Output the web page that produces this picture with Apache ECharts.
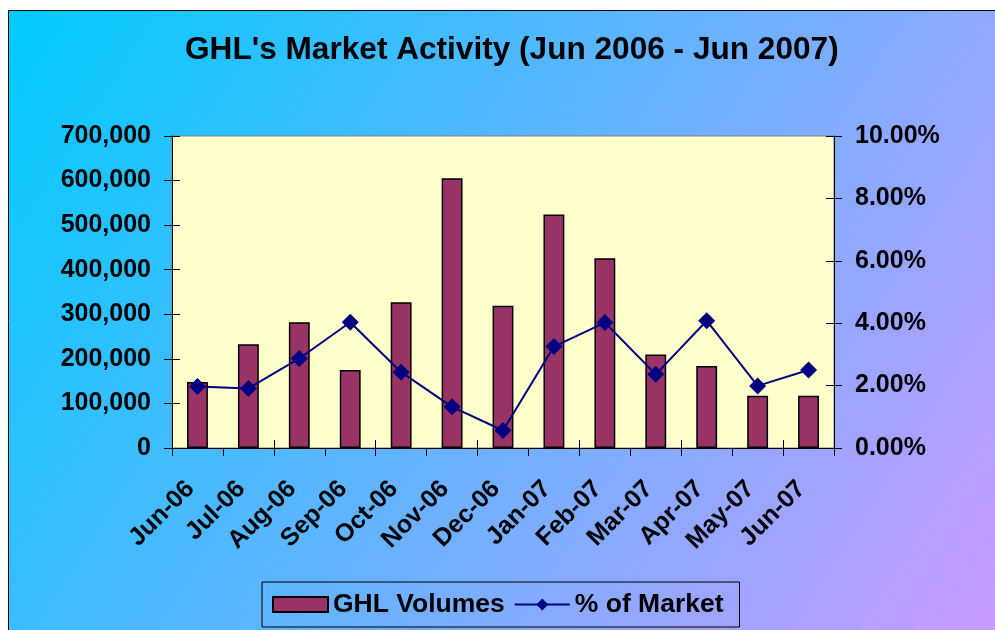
<!DOCTYPE html>
<html>
<head>
<meta charset="utf-8">
<script src="https://cdn.jsdelivr.net/npm/echarts@6/dist/echarts.min.js"></script>
<style>
  html, body { margin: 0; padding: 0; background: #ffffff; }
  #chart { width: 995px; height: 630px; }
</style>
</head>
<body>
<div id="chart"></div>
<script>
// ---- data ----
const categories = ['Jun-06', 'Jul-06', 'Aug-06', 'Sep-06', 'Oct-06', 'Nov-06', 'Dec-06',
                    'Jan-07', 'Feb-07', 'Mar-07', 'Apr-07', 'May-07', 'Jun-07'];
const ghlVolumes = [148000, 233000, 282000, 175000, 327000, 605000, 319000,
                    524000, 426000, 210000, 184000, 117000, 117000];
const pctOfMarket = [1.97, 1.91, 2.87, 4.03, 2.43, 1.32, 0.56,
                     3.25, 4.02, 2.36, 4.08, 1.99, 2.50];
const seriesNames = ['GHL Volumes', '% of Market'];
const titleText = "GHL's Market Activity (Jun 2006 - Jun 2007)";

const FONT = "'Liberation Sans', Arial, sans-serif";
const chart = echarts.init(document.getElementById('chart'), null, { renderer: 'canvas' });

const volFmt = v => v === 0 ? '0' : v.toLocaleString('en-US');
const pctFmt = v => v.toFixed(2) + '%';

const gridLeft = 172, gridTop = 136, gridRight = 995 - 834, gridBottom = 630 - 448;

const option = {
  animation: false,
  backgroundColor: '#ffffff',
  graphic: [{
    type: 'rect',
    z: -100,
    silent: true,
    shape: { x: 8.5, y: 10.5, width: 1000, height: 640 },
    style: {
      fill: new echarts.graphic.LinearGradient(0, 0, 1, 1, [
        { offset: 0, color: '#00CCFF' },
        { offset: 1, color: '#CC99FF' }
      ]),
      stroke: '#000000',
      lineWidth: 1
    }
  }],
  title: {
    text: titleText,
    left: 185,
    top: 34,
    padding: 0,
    textStyle: { fontFamily: FONT, fontSize: 31.6, fontWeight: 'bold', color: '#000000' }
  },
  legend: {
    data: [{ name: seriesNames[0], icon: 'rect' }, { name: seriesNames[1] }],
    left: 262,
    top: 582,
    padding: [9, 16, 9, 10],
    itemGap: 9,
    itemWidth: 55,
    itemHeight: 15,
    borderColor: '#000000',
    borderWidth: 1,
    textStyle: { fontFamily: FONT, fontSize: 26.5, fontWeight: 'bold', color: '#000000' }
  },
  grid: {
    left: gridLeft, top: gridTop, right: gridRight, bottom: gridBottom,
    show: true,
    backgroundColor: '#FFFFCC',
    borderColor: '#808080',
    borderWidth: 1
  },
  xAxis: [{
    type: 'category',
    data: categories,
    position: 'bottom',
    axisLine: { lineStyle: { color: '#000000', width: 1 } },
    axisTick: { show: true, inside: false, length: 8, lineStyle: { color: '#000000' } },
    axisLabel: {
      rotate: 45, margin: 30, interval: 0, padding: [0, 10, 0, 0],
      fontFamily: FONT, fontSize: 25, fontWeight: 'bold', color: '#000000'
    },
    splitLine: { show: false }
  }, {
    type: 'category',
    data: categories,
    position: 'bottom',
    axisLine: { show: false },
    axisTick: { show: true, inside: true, length: 8, lineStyle: { color: '#000000' } },
    axisLabel: { show: false },
    splitLine: { show: false }
  }],
  yAxis: [{
    type: 'value',
    position: 'left',
    min: 0, max: 700000, interval: 100000,
    axisLine: { show: true, lineStyle: { color: '#000000', width: 1 } },
    axisTick: { show: true, inside: false, length: 8, lineStyle: { color: '#000000' } },
    axisLabel: {
      formatter: volFmt, margin: 21,
      fontFamily: FONT, fontSize: 25, fontWeight: 'bold', color: '#000000'
    },
    splitLine: { show: false }
  }, {
    type: 'value',
    position: 'right',
    min: 0, max: 10, interval: 2,
    axisLine: { show: true, lineStyle: { color: '#000000', width: 1 } },
    axisTick: { show: true, inside: false, length: 8, lineStyle: { color: '#000000' } },
    axisLabel: {
      formatter: pctFmt, margin: 21,
      fontFamily: FONT, fontSize: 25, fontWeight: 'bold', color: '#000000'
    },
    splitLine: { show: false }
  }, {
    type: 'value',
    position: 'left',
    min: 0, max: 700000, interval: 100000,
    axisLine: { show: false },
    axisTick: { show: true, inside: true, length: 8, lineStyle: { color: '#000000' } },
    axisLabel: { show: false },
    splitLine: { show: false }
  }, {
    type: 'value',
    position: 'right',
    min: 0, max: 10, interval: 2,
    axisLine: { show: false },
    axisTick: { show: true, inside: true, length: 8, lineStyle: { color: '#000000' } },
    axisLabel: { show: false },
    splitLine: { show: false }
  }],
  series: [{
    name: seriesNames[0],
    type: 'bar',
    xAxisIndex: 0,
    yAxisIndex: 0,
    data: ghlVolumes,
    barWidth: '41%',
    itemStyle: { color: '#993366', borderColor: '#000000', borderWidth: 1.5 }
  }, {
    name: seriesNames[1],
    type: 'line',
    xAxisIndex: 0,
    yAxisIndex: 1,
    data: pctOfMarket,
    symbol: 'diamond',
    symbolSize: 17,
    lineStyle: { color: '#000080', width: 2 },
    itemStyle: { color: '#000080' },
    z: 5
  }]
};

chart.setOption(option);
</script>
</body>
</html>
